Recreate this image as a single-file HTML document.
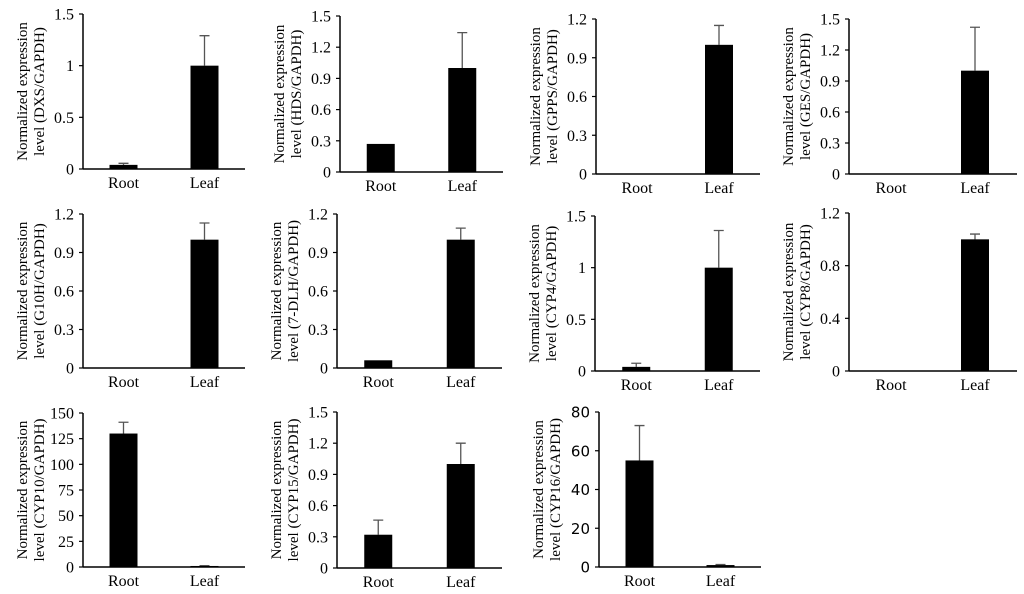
<!DOCTYPE html>
<html><head><meta charset="utf-8"><style>
html,body{margin:0;padding:0;background:#fff;}
svg{display:block;font-family:"Liberation Serif",serif;}
</style></head><body>
<svg id="c" width="1024" height="594" viewBox="0 0 1024 594"></svg>
<script>
const genes = ["DXS","HDS","GPPS","GES","G10H","7-DLH","CYP4","CYP8","CYP10","CYP15","CYP16"];
const categories = ["Root","Leaf"];
const rootValues = [0.04,0.27,0,0,0,0.06,0.04,0,130,0.32,55];
const leafValues = [1,1,1,1,1,1,1,1,1,1,1];
const rootErrors = [0.015,0,0,0,0,0,0.035,0,11,0.14,18];
const leafErrors = [0.29,0.34,0.15,0.42,0.13,0.09,0.36,0.04,0.3,0.2,0.3];
const yMaxes = [1.5,1.5,1.2,1.5,1.2,1.2,1.5,1.2,150,1.5,80];
const yTickLabels = [
 ["0","0.5","1","1.5"],["0","0.3","0.6","0.9","1.2","1.5"],["0","0.3","0.6","0.9","1.2"],["0","0.3","0.6","0.9","1.2","1.5"],
 ["0","0.3","0.6","0.9","1.2"],["0","0.3","0.6","0.9","1.2"],["0","0.5","1","1.5"],["0","0.4","0.8","1.2"],
 ["0","25","50","75","100","125","150"],["0","0.3","0.6","0.9","1.2","1.5"],["0","20","40","60","80"]];
// layout: axis x, top y, zero y, width
const layout = [[83,14,169,162],[340,16,172,163],[596,19,174,164],[849,19,174,168],
 [83,214,368,162],[337,214,368,165],[595,216,371,165],[849,213,371,168],
 [83,413,567,162],[337,412,568,165],[599,412,567,162]];
const NS="http://www.w3.org/2000/svg";
const svg=document.getElementById('c');
function mk(tag,attrs,parent){const e=document.createElementNS(NS,tag);for(const k in attrs)e.setAttribute(k,attrs[k]);(parent||svg).appendChild(e);return e;}
genes.forEach((g,i)=>{
  const [ax,top,zero,w]=layout[i];
  const grp=mk('g',{});
  
  
  const yMax=yMaxes[i];
  const y=v=>zero-(v/yMax)*(zero-top);
  const x=c=>ax+w*(0.25+0.5*c);
  const sans = i===10;
  const yax=mk('line',{x1:ax,y1:top,x2:ax,y2:zero,stroke:'#000','stroke-width':1.5},grp);
  
  
  const xax=mk('line',{x1:ax,y1:zero,x2:ax+w,y2:zero,stroke:'#000','stroke-width':1.5},grp);
  
  
  const ticks=yTickLabels[i];
  ticks.forEach((t,k)=>{
    const v=yMax*k/(ticks.length-1);
    const ty=y(v);
    mk('line',{x1:ax-4,y1:ty,x2:ax,y2:ty,stroke:'#000','stroke-width':1.2},grp);
    const tl=mk('text',{x:ax-9,y:ty+5.5,'text-anchor':'end','font-size':sans?15:16,fill:'#000','font-family':sans?'"DejaVu Sans",sans-serif':'"Liberation Serif",serif'},grp);
    tl.textContent=t;
    
    
  });
  const vals=[rootValues[i],leafValues[i]], errs=[rootErrors[i],leafErrors[i]];
  categories.forEach((c,k)=>{
    const cx=x(k), bw=28;
    if(vals[k]>0){
      if(errs[k]>0){
        const e=mk('path',{d:`M${cx},${y(vals[k])} V${y(vals[k]+errs[k])} M${cx-5},${y(vals[k]+errs[k])} H${cx+5}`,stroke:'#555','stroke-width':1.3,fill:'none'},grp);
        
        
      }
      const r=mk('rect',{x:cx-bw/2,y:y(vals[k]),width:bw,height:Math.max(1.5,zero-y(vals[k])),fill:'#000'},grp);
      
      
    }
    const lb=mk('text',{x:cx,y:zero+19,'text-anchor':'middle','font-size':16,fill:'#000'},grp);
    lb.textContent=c;
    
    
  });
  const cy=(top+zero)/2;
  const t1=mk('text',{x:0,y:0,transform:`translate(${ax-56},${cy}) rotate(-90)`,'text-anchor':'middle','font-size':15,fill:'#000'},grp);
  t1.textContent='Normalized expression';
  
  
  const t2=mk('text',{x:0,y:0,transform:`translate(${ax-39},${cy}) rotate(-90)`,'text-anchor':'middle','font-size':15,fill:'#000'},grp);
  t2.textContent='level ('+g+'/GAPDH)';
  
  
});
</script>
</body></html>
